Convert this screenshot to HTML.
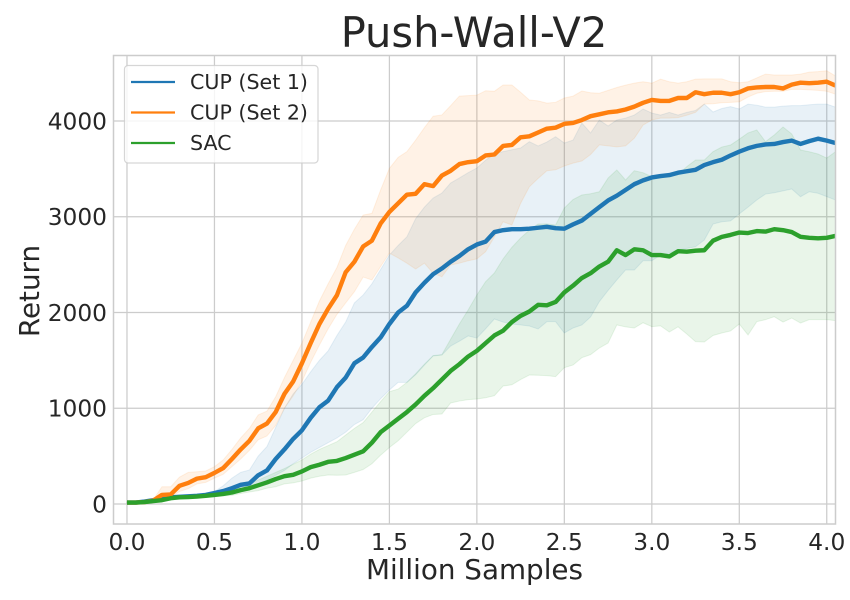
<!DOCTYPE html>
<html lang="en">
<head>
<meta charset="utf-8">
<title>Push-Wall-V2</title>
<style>
html,body{margin:0;padding:0;background:#fff;}
svg{display:block;font-family:"DejaVu Sans","Liberation Sans",sans-serif;}
</style>
</head>
<body>
<svg id="chart" xmlns="http://www.w3.org/2000/svg" width="850" height="600" viewBox="0 0 850 600">
  <rect x="0" y="0" width="850" height="600" fill="#ffffff"/>
  <defs><clipPath id="plot-clip"><rect x="113.5" y="55.5" width="722" height="468.5"/></clipPath></defs>
  <g id="grid"></g>
  <g id="bands" clip-path="url(#plot-clip)"></g>
  <g id="lines" clip-path="url(#plot-clip)"></g>
  <rect x="113.5" y="55.5" width="722" height="468.5" fill="none" stroke="#cccccc" stroke-width="1.5"/>
  <g id="xticks"></g>
  <g id="yticks"></g>
  <text x="474" y="47" text-anchor="middle" font-size="41.6" fill="#262626">Push-Wall-V2</text>
  <text x="474.5" y="579" text-anchor="middle" font-size="27.8" fill="#262626">Million Samples</text>
  <text transform="translate(39,291) rotate(-90)" text-anchor="middle" font-size="27.8" fill="#262626">Return</text>
  <g>
    <rect x="124.5" y="65.5" width="193.5" height="97.5" rx="3.5" fill="#ffffff" fill-opacity="0.8" stroke="#cccccc" stroke-opacity="0.8" stroke-width="1.2"/>
    <g>
      <line x1="131" x2="175" y1="82" y2="82" stroke="#1f77b4" stroke-width="2.2"/>
      <text x="190" y="89" font-size="20.6" fill="#262626">CUP (Set 1)</text>
    </g>
    <g>
      <line x1="131" x2="175" y1="112.5" y2="112.5" stroke="#ff7f0e" stroke-width="2.2"/>
      <text x="190" y="119.5" font-size="20.6" fill="#262626">CUP (Set 2)</text>
    </g>
    <g>
      <line x1="131" x2="175" y1="143" y2="143" stroke="#2ca02c" stroke-width="2.2"/>
      <text x="190" y="150" font-size="20.6" fill="#262626">SAC</text>
    </g>
  </g>
</svg>
<script>
const xTickValues = [0, 0.5, 1, 1.5, 2, 2.5, 3, 3.5, 4];
const xTickLabels = ["0.0", "0.5", "1.0", "1.5", "2.0", "2.5", "3.0", "3.5", "4.0"];
const yTickValues = [0, 1000, 2000, 3000, 4000];
const yTickLabels = ["0", "1000", "2000", "3000", "4000"];
const sampleStepMillions = 0.05;

const set1Mean = [
  15,15,25,40,60,70,75,80,85,95,
  115,135,165,200,215,300,350,470,570,680,
  770,900,1010,1080,1220,1320,1470,1530,1640,1740,
  1880,2000,2070,2210,2310,2400,2460,2530,2590,2660,
  2710,2740,2840,2860,2870,2870,2875,2885,2895,2880,
  2875,2920,2960,3030,3100,3170,3220,3280,3340,3380,
  3410,3425,3435,3460,3475,3490,3540,3570,3595,3640,
  3680,3715,3740,3755,3760,3780,3795,3760,3790,3815,
  3795,3770];
const set1Upper = [
  20,20,28,45,65,75,80,85,95,105,
  130,190,270,330,355,500,600,800,1000,1150,
  1250,1380,1500,1600,1760,1900,2100,2183,2300,2450,
  2600,2700,2790,2980,3100,3195,3247,3352,3405,3460,
  3509,3590,3660,3680,3700,3718,3784,3739,3780,3836,
  3770,3800,3979,3875,4010,3948,4010,4030,4062,4125,
  4083,4062,4090,4062,4090,4110,4176,4094,4130,4150,
  4125,4176,4165,4145,4145,4155,4160,4160,4170,4176,
  4176,4145];
const set1Lower = [
  10,10,22,35,55,65,70,75,78,85,
  95,110,125,150,170,200,250,300,350,420,
  480,540,590,640,690,750,830,880,1000,1100,
  1190,1270,1270,1350,1450,1546,1556,1650,1700,1755,
  1733,1830,1932,1900,1880,1870,1859,1828,1904,1904,
  1786,1838,1870,1953,2113,2230,2340,2444,2444,2540,
  2540,2600,2620,2653,2670,2687,2757,2924,2948,2956,
  3030,3100,3175,3237,3250,3270,3290,3209,3261,3245,
  3210,3175];

const set2Mean = [
  15,15,20,35,95,100,190,220,265,280,
  325,375,470,570,660,790,840,960,1150,1280,
  1470,1680,1880,2040,2180,2420,2530,2690,2750,2930,
  3050,3140,3230,3240,3340,3320,3430,3480,3550,3570,
  3580,3640,3650,3740,3750,3830,3840,3880,3920,3930,
  3970,3980,4010,4050,4070,4090,4100,4120,4150,4190,
  4220,4210,4210,4240,4240,4300,4280,4295,4295,4280,
  4300,4340,4350,4355,4355,4340,4380,4400,4395,4400,
  4410,4370];
const set2Upper = [
  20,20,25,45,180,180,280,330,337,345,
  390,460,570,690,790,930,970,1120,1320,1500,
  1680,1900,2120,2300,2470,2700,2870,3018,3035,3280,
  3505,3620,3680,3800,3930,4050,4063,4160,4260,4265,
  4270,4316,4310,4376,4376,4300,4219,4210,4187,4195,
  4240,4260,4313,4295,4290,4320,4350,4375,4395,4410,
  4395,4437,4410,4395,4410,4437,4440,4440,4440,4410,
  4400,4410,4450,4490,4480,4480,4480,4490,4510,4515,
  4525,4470];
const set2Lower = [
  10,10,15,28,70,75,130,160,210,225,
  270,310,390,470,560,670,710,820,1000,1130,
  1280,1480,1660,1830,1980,2100,2217,2370,2340,2480,
  2620,2570,2515,2454,2515,2410,2373,2496,2515,2540,
  2560,2635,2790,2948,2914,3140,3313,3400,3480,3490,
  3530,3560,3582,3650,3750,3740,3730,3740,3820,3957,
  4010,4030,4030,4035,4060,4090,4176,4180,4190,4195,
  4200,4250,4290,4307,4310,4310,4330,4330,4325,4320,
  4310,4280];

const sacMean = [
  15,15,20,30,40,60,70,72,78,85,
  95,105,120,145,165,195,225,260,290,305,
  340,385,410,440,450,480,515,550,640,750,
  820,890,960,1040,1130,1210,1300,1390,1460,1540,
  1600,1680,1760,1810,1900,1965,2010,2080,2075,2110,
  2210,2280,2360,2410,2480,2530,2650,2600,2660,2650,
  2600,2600,2585,2640,2635,2645,2650,2750,2790,2810,
  2835,2830,2850,2845,2870,2860,2840,2790,2780,2775,
  2780,2800];
const sacUpper = [
  20,20,25,38,50,70,82,85,92,100,
  110,135,165,190,215,250,290,330,370,415,
  460,520,570,610,650,720,790,850,960,1070,
  1173,1200,1270,1360,1460,1550,1560,1720,1880,2026,
  2183,2322,2412,2560,2680,2778,2860,2924,2925,2914,
  3091,3180,3227,3240,3261,3404,3488,3384,3481,3460,
  3418,3440,3430,3440,3523,3592,3592,3680,3728,3749,
  3810,3875,3906,3784,3854,3937,3864,3697,3679,3655,
  3613,3679];
const sacLower = [
  10,10,15,22,30,45,55,60,65,70,
  75,85,90,110,125,140,165,180,210,220,
  240,270,290,303,300,303,330,360,420,510,
  590,660,750,840,900,935,940,1055,1075,1090,
  1097,1110,1131,1232,1245,1300,1347,1345,1340,1330,
  1424,1452,1528,1560,1629,1681,1870,1850,1838,1893,
  1852,1860,1796,1850,1775,1695,1692,1760,1786,1807,
  1880,1765,1904,1925,1956,1900,1942,1890,1925,1925,
  1925,1915];

const SVG_NS = 'http://www.w3.org/2000/svg';
const plotLeft = 113.5, plotRight = 835.5, plotTop = 55.5, plotBottom = 524;
const xDomain = [-0.0771, 4.05], yDomain = [-209, 4684];
function xScale(v) { return plotLeft + (v - xDomain[0]) / (xDomain[1] - xDomain[0]) * (plotRight - plotLeft); }
function yScale(v) { return plotBottom - (v - yDomain[0]) / (yDomain[1] - yDomain[0]) * (plotBottom - plotTop); }
function make(tag, attrs) {
  const el = document.createElementNS(SVG_NS, tag);
  for (const k in attrs) el.setAttribute(k, attrs[k]);
  return el;
}
function pointList(values) {
  return values.map((v, i) => xScale(i * sampleStepMillions).toFixed(2) + ',' + yScale(v).toFixed(2));
}

const gridGroup = document.getElementById('grid');
const xTickGroup = document.getElementById('xticks');
const yTickGroup = document.getElementById('yticks');
xTickValues.forEach((v, i) => {
  const line = make('line', {x1: xScale(v), x2: xScale(v), y1: plotTop, y2: plotBottom, stroke: '#cccccc', 'stroke-width': 1.25});
  
  
  gridGroup.appendChild(line);
  const label = make('text', {x: xScale(v), y: 550, 'text-anchor': 'middle', 'font-size': 23.3, fill: '#262626'});
  
  
  label.textContent = xTickLabels[i];
  xTickGroup.appendChild(label);
});
yTickValues.forEach((v, i) => {
  const line = make('line', {x1: plotLeft, x2: plotRight, y1: yScale(v), y2: yScale(v), stroke: '#cccccc', 'stroke-width': 1.25});
  
  
  gridGroup.appendChild(line);
  const label = make('text', {x: 107, y: yScale(v) + 8.5, 'text-anchor': 'end', 'font-size': 23.3, fill: '#262626'});
  
  
  label.textContent = yTickLabels[i];
  yTickGroup.appendChild(label);
});

const bandGroup = document.getElementById('bands');
const lineGroup = document.getElementById('lines');
function drawBand(upper, lower, color, name) {
  const pts = pointList(upper).concat(pointList(lower).reverse()).join(' ');
  const band = make('polygon', {points: pts, fill: color, 'fill-opacity': 0.1, stroke: color, 'stroke-opacity': 0.1, 'stroke-width': 1});
  
  
  bandGroup.appendChild(band);
}
function drawLine(values, color, name) {
  const line = make('polyline', {points: pointList(values).join(' '), fill: 'none', stroke: color, 'stroke-width': 4.4, 'stroke-linejoin': 'round', 'stroke-linecap': 'butt'});
  
  
  lineGroup.appendChild(line);
}
drawBand(set1Upper, set1Lower, '#1f77b4', 'band-cup-set-1');
drawBand(set2Upper, set2Lower, '#ff7f0e', 'band-cup-set-2');
drawBand(sacUpper, sacLower, '#2ca02c', 'band-sac');
drawLine(set1Mean, '#1f77b4', 'line-cup-set-1');
drawLine(set2Mean, '#ff7f0e', 'line-cup-set-2');
drawLine(sacMean, '#2ca02c', 'line-sac');
</script>
</body>
</html>
